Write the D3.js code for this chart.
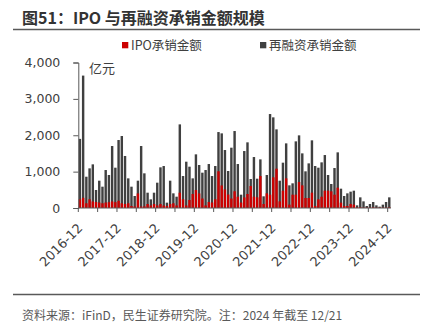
<!DOCTYPE html>
<html>
<head>
<meta charset="utf-8">
<script src="https://cdn.jsdelivr.net/npm/d3@7/dist/d3.min.js"></script>
<style>
  body { margin: 0; background: #fff; }
  svg { display: block; }
  text { font-family: "DejaVu Sans", "Noto Sans CJK SC", sans-serif; }
</style>
</head>
<body>
<svg width="433" height="330"></svg>
<script>
// 数据：2016-12 到 2024-12 每月，单位亿元
var startMonth = "2016-12", monthCount = 97;
var tickLabels = ["2016-12","2017-12","2018-12","2019-12","2020-12","2021-12","2022-12","2023-12","2024-12"];
var yTicks = [0, 1000, 2000, 3000, 4000];

var ipo = [240,280,130,240,180,165,150,130,150,160,180,160,200,130,110,130,55,40,400,40,
           45,110,70,110,70,110,70,55,110,130,70,420,240,70,220,385,495,400,260,70,
           165,150,240,1010,620,510,370,260,460,310,150,290,385,605,311,293,879,110,403,366,
           843,1081,183,476,815,92,366,366,714,623,275,275,421,55,238,311,476,476,458,366,
           559,147,55,55,110,92,18,18,10,10,10,18,10,10,10,10,18];

var refi = [1900,3640,860,1090,1200,495,751,586,1044,907,1704,1108,1869,1979,1430,815,586,330,751,1704,
            953,421,238,421,696,1118,1154,147,751,403,311,2299,879,1273,1136,815,1475,1182,971,1044,
            1209,879,1154,2088,2052,1594,1017,1658,2116,1209,366,1566,1805,797,1401,806,1337,321,907,2583,
            2492,2162,751,1246,1777,623,678,1832,1997,1502,1008,1227,1860,1154,1108,1255,1456,907,660,1099,
            1530,531,330,403,449,476,73,293,183,55,110,165,73,37,92,165,293];

var red = "#cc0000", grey = "#404040", txt = "#404040";

// 月份类别
var parse = d3.timeParse("%Y-%m"), fmt = d3.timeFormat("%Y-%m");
var t0 = parse(startMonth);
var months = d3.timeMonth.range(t0, d3.timeMonth.offset(t0, monthCount)).map(fmt);

var data = months.map(function(m, i) { return {month: m, ipo: ipo[i], refi: refi[i]}; });

var svg = d3.select("svg");
var x0 = 78.3, x1 = 390.9, y0 = 208;

var x = d3.scaleBand().domain(months).range([x0, x1]).paddingInner(0.25).paddingOuter(0.125);
var y = d3.scaleLinear().domain([0, 4000]).range([y0, 62.5]);
var edge = function(m) { return x(m) - x.step() * 0.125; };

// 标题
svg.append("text")
    .attr("x", 22).attr("y", 24)
    .style("font-family", "'Noto Sans CJK SC', sans-serif")
    .style("font-size", "16px").style("font-weight", "bold")
    .attr("fill", "#333")
    .text("图51：IPO 与再融资承销金额规模");

svg.append("line").attr("x1", 13).attr("x2", 420).attr("y1", 29.5).attr("y2", 29.5)
    .attr("stroke", "#595959").attr("stroke-width", 1.5);

// 图例
var legend = [{name: "IPO承销金额", color: red, x: 122}, {name: "再融资承销金额", color: grey, x: 260}];
var lg = svg.append("g").selectAll("g").data(legend).enter().append("g");
lg.append("rect").attr("x", function(d) { return d.x; }).attr("y", 42)
    .attr("width", 6.3).attr("height", 6.3).attr("fill", function(d) { return d.color; });
lg.append("text").attr("x", function(d) { return d.x + 9; }).attr("y", 50)
    .style("font-family", "'Noto Sans CJK SC', sans-serif")
    .style("font-size", "12.5px").attr("fill", txt)
    .text(function(d) { return d.name; });

// 单位
svg.append("text").attr("x", 89).attr("y", 73)
    .style("font-family", "'Noto Sans CJK SC', sans-serif")
    .style("font-size", "13px").attr("fill", txt).text("亿元");

// 柱子：再融资在后，IPO在前
svg.append("g").selectAll("rect").data(data).enter().append("rect")
    .attr("x", function(d) { return x(d.month); })
    .attr("y", function(d) { return y(d.refi); })
    .attr("width", x.bandwidth())
    .attr("height", function(d) { return y0 - y(d.refi); })
    .attr("fill", grey);

svg.append("g").selectAll("rect").data(data).enter().append("rect")
    .attr("x", function(d) { return x(d.month); })
    .attr("y", function(d) { return y(d.ipo); })
    .attr("width", x.bandwidth())
    .attr("height", function(d) { return y0 - y(d.ipo); })
    .attr("fill", red);

// y 轴
var yAxis = svg.append("g").attr("transform", "translate(" + x0 + ",0)")
    .call(d3.axisLeft(y).tickValues(yTicks).tickFormat(d3.format(",")).tickSize(5).tickPadding(13));
yAxis.select(".domain").attr("stroke", "#595959");
yAxis.selectAll(".tick line").attr("stroke", "#595959");
yAxis.selectAll("text").style("font-size", "12.5px").attr("fill", txt);

// x 轴
var sixMonths = months.filter(function(m, i) { return i % 6 == 0; });
var xg = svg.append("g");
xg.append("line").attr("x1", x0).attr("x2", x1).attr("y1", y0).attr("y2", y0)
    .attr("stroke", "#595959");
xg.selectAll(".tk").data(sixMonths).enter().append("line")
    .attr("x1", edge).attr("x2", edge).attr("y1", y0).attr("y2", y0 + 4)
    .attr("stroke", "#595959");
xg.selectAll("text").data(tickLabels).enter().append("text")
    .attr("transform", function(d) { return "translate(" + (edge(d) + 5) + "," + (y0 + 21) + ") rotate(-45)"; })
    .attr("text-anchor", "end")
    .style("font-size", "13px").attr("fill", txt)
    .text(function(d) { return d; });

// 脚注
svg.append("line").attr("x1", 13).attr("x2", 420).attr("y1", 294.5).attr("y2", 294.5)
    .attr("stroke", "#595959").attr("stroke-width", 1.5);
svg.append("text").attr("x", 22).attr("y", 320)
    .style("font-family", "'Noto Sans CJK SC', sans-serif")
    .style("font-size", "12px").attr("fill", "#595959")
    .text("资料来源：iFinD，民生证券研究院。注：2024 年截至 12/21");
</script>
</body>
</html>
